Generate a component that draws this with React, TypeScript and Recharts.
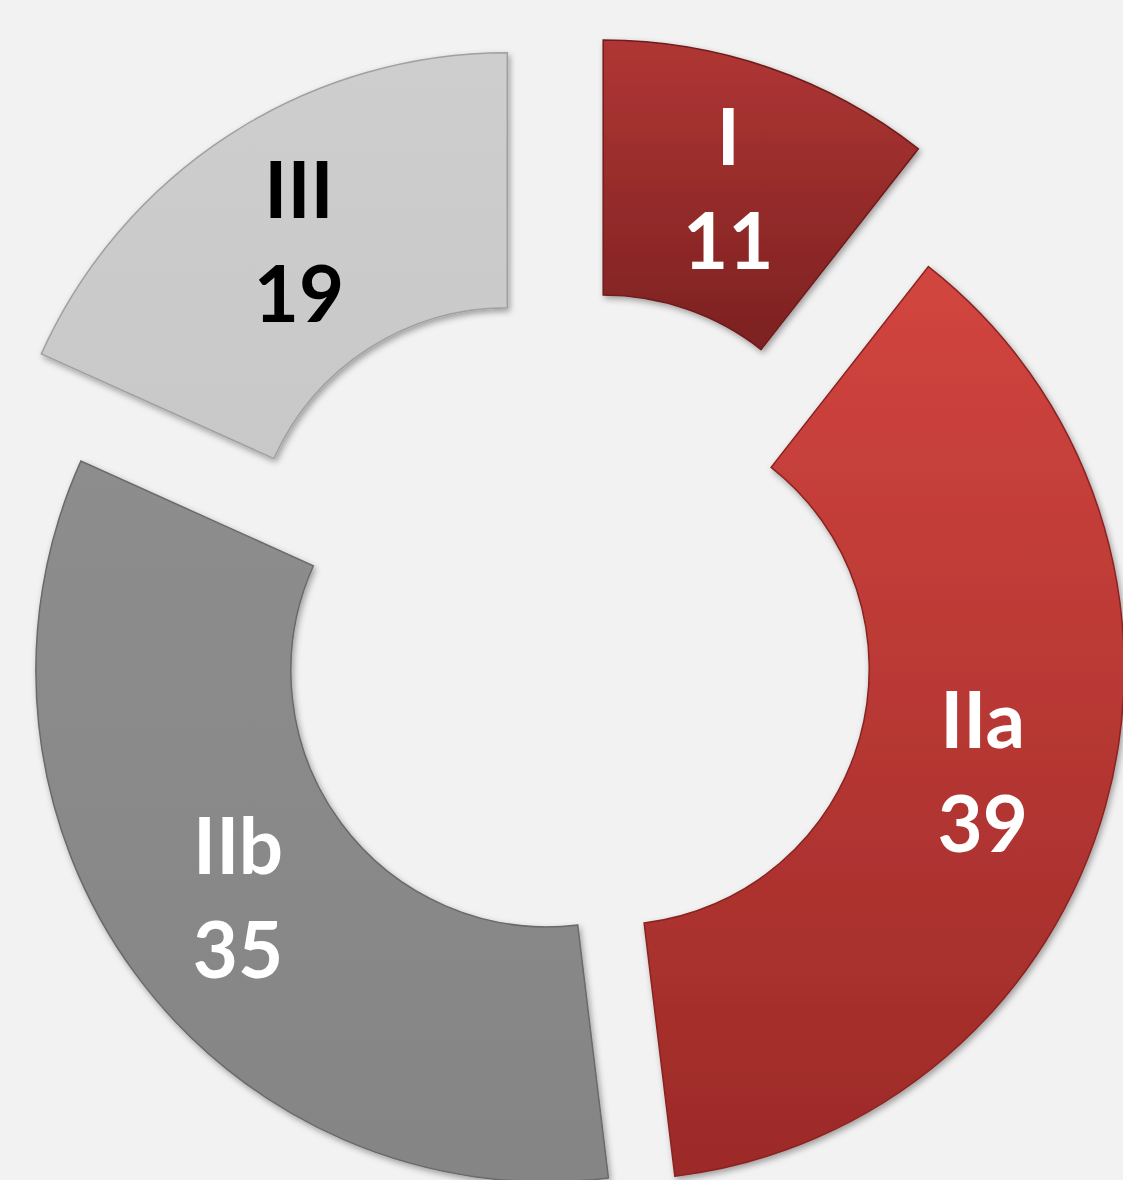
import React from 'react';
import { PieChart, Pie, Cell } from 'recharts';

const categories = ['I', 'IIa', 'IIb', 'III'];
const values = [11, 39, 35, 19];

// styling / layout (not data)
const gradients = [
  ['#b03634', '#7c2121'],
  ['#d2453f', '#9c2a28'],
  ['#8d8d8d', '#858585'],
  ['#cecece', '#c8c8c8'],
];
const strokes = ['#6e1b1b', '#8a2422', '#6a6a6a', '#a0a0a0'];
const labelColors = ['#ffffff', '#ffffff', '#ffffff', '#000000'];
const explode = [111, 48, 25, 110];

const W = 1123;
const H = 1180;
const BASE_X = 567;
const BASE_Y = 656;
const INNER = 256;
const OUTER = 511;
const START = 90;
const END = -270;

const data = categories.map((name, i) => ({ name, value: values[i] }));
const total = values.reduce((a, b) => a + b, 0);

const midAngles = values.map((v, i) => {
  const before = values.slice(0, i).reduce((a, b) => a + b, 0);
  return START - ((before + v / 2) / total) * (START - END);
});

const RAD = Math.PI / 180;

const makeLabel = (slice: number) => (props: any) => {
  const { cx, cy, midAngle, innerRadius, outerRadius, index } = props;
  if (index !== slice) return null;
  const r = (innerRadius + outerRadius) / 2;
  const x = cx + r * Math.cos(-midAngle * RAD);
  const y = cy + r * Math.sin(-midAngle * RAD);
  return (
    <text
      x={x}
      y={y}
      textAnchor="middle"
      fill={labelColors[slice]}
      fontFamily="Lato, 'Open Sans', sans-serif"
      fontWeight={700}
      fontSize={78}
    >
      <tspan x={x} dy={-24}>{data[slice].name}</tspan>
      <tspan x={x} dy={104}>{data[slice].value}</tspan>
    </text>
  );
};

export default function App() {
  return (
    <div style={{ position: 'absolute', left: 0, top: 0, width: W, height: H, background: '#f2f2f2', overflow: 'hidden' }}>
      <PieChart width={W} height={H} margin={{ top: 0, right: 0, bottom: 0, left: 0 }}>
        <defs>
          {gradients.map((g, i) => (
            <linearGradient key={i} id={`grad${i}`} x1="0" y1="0" x2="0" y2="1">
              <stop offset="0%" stopColor={g[0]} />
              <stop offset="100%" stopColor={g[1]} />
            </linearGradient>
          ))}
          <filter id="shadow" x="-10%" y="-10%" width="120%" height="120%">
            <feDropShadow dx="2" dy="3" stdDeviation="3" floodColor="#000" floodOpacity="0.35" />
          </filter>
        </defs>
        {categories.map((_, slice) => {
          const cx = BASE_X + explode[slice] * Math.cos(midAngles[slice] * RAD);
          const cy = BASE_Y - explode[slice] * Math.sin(midAngles[slice] * RAD);
          return (
            <Pie
              key={slice}
              data={data}
              dataKey="value"
              nameKey="name"
              cx={cx}
              cy={cy}
              innerRadius={INNER}
              outerRadius={OUTER}
              startAngle={START}
              endAngle={END}
              paddingAngle={0}
              isAnimationActive={false}
              label={makeLabel(slice)}
              labelLine={false}
            >
              {data.map((_, i) => (
                <Cell
                  key={i}
                  fill={i === slice ? `url(#grad${slice})` : 'none'}
                  stroke={i === slice ? strokes[slice] : 'none'}
                  strokeWidth={i === slice ? 1.5 : 0}
                  style={i === slice ? { filter: 'url(#shadow)' } : undefined}
                />
              ))}
            </Pie>
          );
        })}
      </PieChart>
    </div>
  );
}
